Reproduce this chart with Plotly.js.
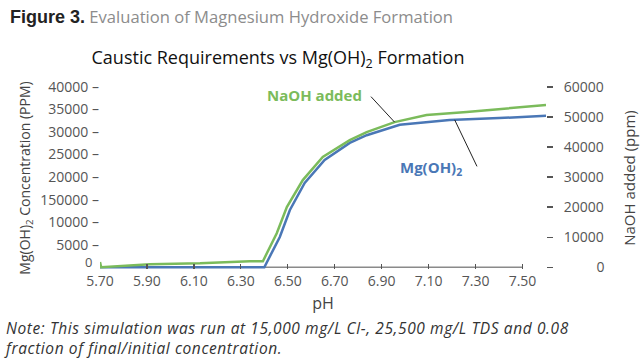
<!DOCTYPE html>
<html><head><meta charset="utf-8">
<script src="https://cdn.plot.ly/plotly-3.0.1.min.js"></script>
<style>html,body{margin:0;padding:0;background:#fff;}#chart{width:640px;height:358px;}</style>
</head><body><div id="chart"></div>
<script>
// NaOH added (ppm), right axis
const naohPH  = [5.70, 5.705, 5.913, 6.126, 6.338, 6.394, 6.453, 6.496, 6.564, 6.649, 6.764, 6.836, 6.955, 7.091, 7.262, 7.40, 7.60];
const naohPPM = [1700, 0, 1000, 1300, 2000, 2000, 11300, 20000, 29000, 36700, 42300, 45000, 48300, 50700, 51700, 52700, 54000];
// Mg(OH)2 concentration (PPM), left axis
const mgPH  = [5.70, 6.40, 6.466, 6.509, 6.572, 6.657, 6.764, 6.836, 6.977, 7.189, 7.40, 7.60];
const mgPPM = [0, 0, 6700, 12700, 18700, 23800, 27600, 29300, 31600, 32700, 33100, 33600];

const xTickVals = [5.70, 5.90, 6.10, 6.30, 6.50, 6.70, 6.90, 7.10, 7.30, 7.50];
const xTickText = ['5.70','5.90','6.10','6.30','6.50','6.70','6.90','7.10','7.30','7.50'];
const yTickVals = [5000, 10000, 15000, 20000, 25000, 30000, 35000, 40000];
const yTickText = ['5000 \u2013','10000 \u2013','150000 \u2013','20000 \u2013','25000 \u2013','30000 \u2013','35000 \u2013','40000 \u2013'];
const yZeroLabel = '0';
const y2TickVals = [0, 10000, 20000, 30000, 40000, 50000, 60000];
const y2TickText = ['\u00a0\u00a0\u00a0\u00a0\u00a0\u00a0\u00a0\u00a0\u00a00','10000','20000','30000','40000','50000','60000'];

const GREEN = '#7bbb5b', BLUE = '#4a77b6';
const L = 100, R = 546, T = 87, B = 268.8;
const px = v => (v - L) / (R - L);
const py = v => (B - v) / (B - T);

const traces = [
  {x: mgPH, y: mgPPM, type: 'scatter', mode: 'lines', yaxis: 'y', line: {color: BLUE, width: 2.5}, name: 'Mg(OH)2'},
  {x: naohPH, y: naohPPM, type: 'scatter', mode: 'lines', yaxis: 'y2', line: {color: GREEN, width: 2.5}, name: 'NaOH added'}
];

const layout = {
  width: 640, height: 358,
  margin: {l: L, r: 640 - R, t: T, b: 358 - B},
  paper_bgcolor: '#fff', plot_bgcolor: '#fff', showlegend: false,
  font: {family: '"Open Sans", sans-serif', color: '#555'},
  title: {text: 'Caustic Requirements vs Mg(OH)<sub>2</sub> Formation',
    font: {size: 18, color: '#111'}, xref: 'container', yref: 'container',
    x: 278 / 640, xanchor: 'center', y: 1 - 58 / 358, yanchor: 'middle'},
  xaxis: {range: [5.7, 7.6], tickvals: xTickVals, ticktext: xTickText, ticks: 'inside', ticklen: 5,
    tickcolor: '#555', tickwidth: 1.3, showline: false, showgrid: false, zeroline: false,
    ticklabelstandoff: 2, tickfont: {size: 14, color: '#555'},
    title: {text: 'pH', font: {size: 16, color: '#444'}, standoff: 8}},
  yaxis: {range: [-400, 40000], tickvals: yTickVals, ticktext: yTickText, ticks: '',
    showgrid: false, zeroline: false, showline: false, tickfont: {size: 14, color: '#555'},
    title: {text: 'Mg(OH)<sub>2</sub> Concentration (PPM)', font: {size: 14, color: '#444'}, standoff: 6}},
  yaxis2: {overlaying: 'y', side: 'right', range: [-600, 60000], tickvals: y2TickVals, ticktext: y2TickText,
    ticks: 'outside', ticklen: 6, tickcolor: '#555', tickwidth: 1.3, ticklabelstandoff: 8,
    showgrid: false, zeroline: false, showline: false, tickfont: {size: 14, color: '#555'},
    title: {text: 'NaOH added (ppm)', font: {size: 15, color: '#444'}, standoff: 20}},
  shapes: [
    {type: 'line', xref: 'x', yref: 'y', x0: 5.7, x1: 7.5, y0: 0, y1: 0, line: {color: '#8a8a8a', width: 1.6}, layer: 'below'}
  ],
  annotations: [
    {xref: 'paper', yref: 'paper', x: px(8), y: py(17), xanchor: 'left', yanchor: 'middle', showarrow: false,
     text: '<b><span style="font-family:\'Liberation Sans\',Arial,sans-serif;font-size:18px">Figure 3.</span></b> <span style="color:#8c8c8c">Evaluation of Magnesium Hydroxide Formation</span>',
     font: {size: 16.6, color: '#222'}},
    {xref: 'paper', yref: 'paper', x: px(94), y: py(262), xanchor: 'right', yanchor: 'middle', showarrow: false,
     text: yZeroLabel, font: {size: 13, color: '#555'}},
    {xref: 'paper', yref: 'paper', x: px(2), y: py(338), xanchor: 'left', yanchor: 'middle', showarrow: false, align: 'left',
     text: '<i><span style="letter-spacing:0.6px">Note: This simulation was run at 15,000 mg/L Cl-, 25,500 mg/L TDS and 0.08</span><br><span style="letter-spacing:0.6px">fraction of final/initial concentration.</span></i>',
     font: {size: 15.5, color: '#333'}},
    {xref: 'x', yref: 'y2', x: 6.615, y: 57300, xanchor: 'center', yanchor: 'middle', showarrow: false,
     text: '<b>NaOH added</b>', font: {size: 15, color: GREEN}},
    {xref: 'x', yref: 'y2', x: 6.955, y: 48300, showarrow: true, arrowhead: 0, arrowwidth: 1, arrowcolor: '#222',
     ax: -25, ay: -27, text: ''},
    {xref: 'x', yref: 'y', x: 7.109, y: 22000, xanchor: 'center', yanchor: 'middle', showarrow: false,
     text: '<b>Mg(OH)<sub>2</sub></b>', font: {size: 15, color: BLUE}},
    {xref: 'x', yref: 'y', x: 7.211, y: 32700, showarrow: true, arrowhead: 0, arrowwidth: 1, arrowcolor: '#222',
     ax: 23, ay: 48, text: ''}
  ]
};

Plotly.newPlot('chart', traces, layout, {displayModeBar: false, staticPlot: true});
</script>
</body></html>
